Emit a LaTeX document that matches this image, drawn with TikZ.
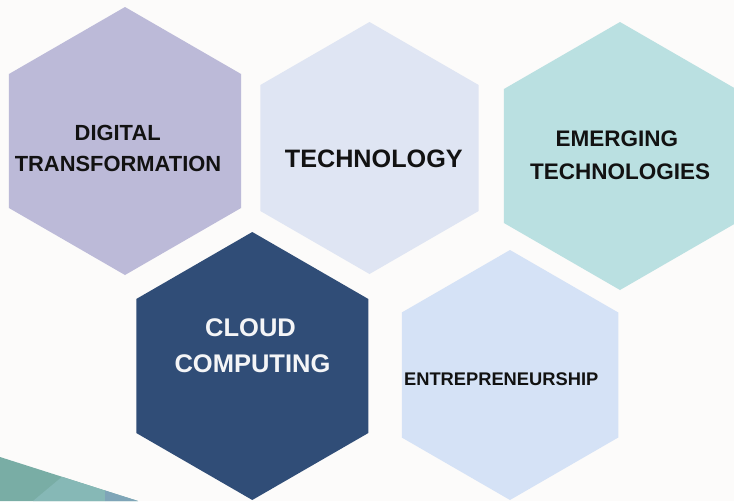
\documentclass[tikz,border=0pt]{standalone}
\usepackage{fontspec}
\setmainfont{Liberation Sans}
\definecolor{bgc}{HTML}{FCFBFA}
\definecolor{hexA}{HTML}{BCBAD8}
\definecolor{hexB}{HTML}{DFE5F3}
\definecolor{hexC}{HTML}{BAE0E1}
\definecolor{hexD}{HTML}{304D77}
\definecolor{hexE}{HTML}{D5E2F6}
\definecolor{swA}{HTML}{79ADA5}
\definecolor{swB}{HTML}{86B8B6}
\definecolor{swC}{HTML}{7FA5B8}
\definecolor{txtdark}{HTML}{121212}
\definecolor{txtlight}{HTML}{F4F5F7}
\newcommand\hexfill[3]{\fill[#1] (#2) +(90:#3) -- +(150:#3) -- +(210:#3) -- +(270:#3) -- +(330:#3) -- +(30:#3) -- cycle;}
\begin{document}
\begin{tikzpicture}[x=1pt,y=-1pt,
  lbl/.style={anchor=base, inner sep=0pt, text=txtdark},
  lbllight/.style={lbl, text=txtlight}]
\fill[bgc] (0,0) rectangle (734,501);
\useasboundingbox (0,0) rectangle (734,501);
% bottom-left swoosh
\fill[swA] (0,457) -- (138,501) -- (0,501) -- cycle;
\fill[swB] (62,476.8) -- (105,490.5) -- (105,501) -- (33,501) -- cycle;
\fill[swC] (105,490.5) -- (138,501) -- (105,501) -- cycle;
% hexagon centres
\coordinate (c1) at (125,141);
\coordinate (c2) at (369.5,148);
\coordinate (c3) at (620,156);
\coordinate (c4) at (252.3,366);
\coordinate (c5) at (510,375);
\hexfill{hexA}{c1}{134}
\hexfill{hexB}{c2}{126}
\hexfill{hexC}{c3}{134}
\hexfill{hexD}{c4}{134}
\hexfill{hexE}{c5}{125}
% labels
\node[lbl, font=\bfseries\fontsize{21.9}{26}\selectfont] (t1a) at (117.7,140) {DIGITAL};
\node[lbl, font=\bfseries\fontsize{21.9}{26}\selectfont] (t1b) at (118,171.7) {TRANSFORMATION};
\node[lbl, font=\bfseries\fontsize{25.2}{30}\selectfont] (t2) at (373.8,167.3) {TECHNOLOGY};
\node[lbl, font=\bfseries\fontsize{22.5}{27}\selectfont] (t3a) at (616.8,146) {EMERGING};
\node[lbl, font=\bfseries\fontsize{22.5}{27}\selectfont] (t3b) at (620.2,179.3) {TECHNOLOGIES};
\node[lbllight, font=\bfseries\fontsize{25.5}{30}\selectfont] (t4a) at (250.5,336.7) {CLOUD};
\node[lbllight, font=\bfseries\fontsize{25.5}{30}\selectfont] (t4b) at (252.5,372.7) {COMPUTING};
\node[lbl, font=\bfseries\fontsize{18.3}{22}\selectfont] (t5) at (501.2,385) {ENTREPRENEURSHIP};
\end{tikzpicture}
\end{document}
